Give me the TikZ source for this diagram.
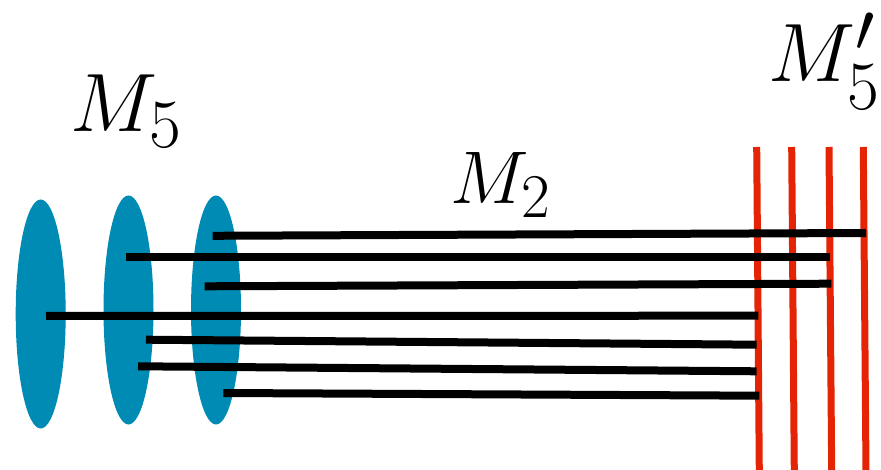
\documentclass[tikz,border=0pt]{standalone}
\usepackage{amsmath}
\usetikzlibrary{shapes.geometric}

\definecolor{branecol}{RGB}{0,139,180}
\definecolor{stackcol}{RGB}{228,36,4}

\tikzset{
  brane/.style={ellipse,fill=branecol,minimum width=50pt,minimum height=229pt,inner sep=0pt},
  wall/.style={stackcol,line width=7pt},
  string/.style={black,line width=8pt},
  biglabel/.style={inner sep=0pt,anchor=base west,font=\Huge}
}

\begin{document}
\begin{tikzpicture}[x=1pt,y=-1pt]
  \useasboundingbox (0,0) rectangle (881,470);
  \clip (0,0) rectangle (881,470);
  % M5 branes on the left
  \node[brane] (m5a) at (40.7,314) {};
  \node[brane] (m5b) at (128.5,310) {};
  \node[brane] (m5c) at (216,310) {};
  % M5' stack on the right
  \draw[wall] (756.7,147) -- (759.3,472);
  \draw[wall] (791.7,147) -- (794.3,472);
  \draw[wall] (829,147) -- (831.7,472);
  \draw[wall] (863.3,147) -- (866,472);
  % M2 strings
  \draw[string] (212.7,235.8) -- (866,233);
  \draw[string] (126,257.3) -- (830,257.3);
  \draw[string] (204.7,286.3) -- (831.3,283.7);
  \draw[string] (46,316) -- (758.3,315.7);
  \draw[string] (146,339.7) -- (756.7,344.7);
  \draw[string] (138,366.3) -- (756.7,371.3);
  \draw[string] (223.3,393) -- (759.3,395.7);
  % labels
  \node[biglabel,scale=3.33] (lm5) at (70,132) {$M_5$};
  \node[biglabel,scale=3.0] (lm2) at (450,203.5) {$M_2$};
  \node[biglabel,scale=3.33] (lm5p) at (768,82) {$M_5'$};
\end{tikzpicture}
\end{document}
